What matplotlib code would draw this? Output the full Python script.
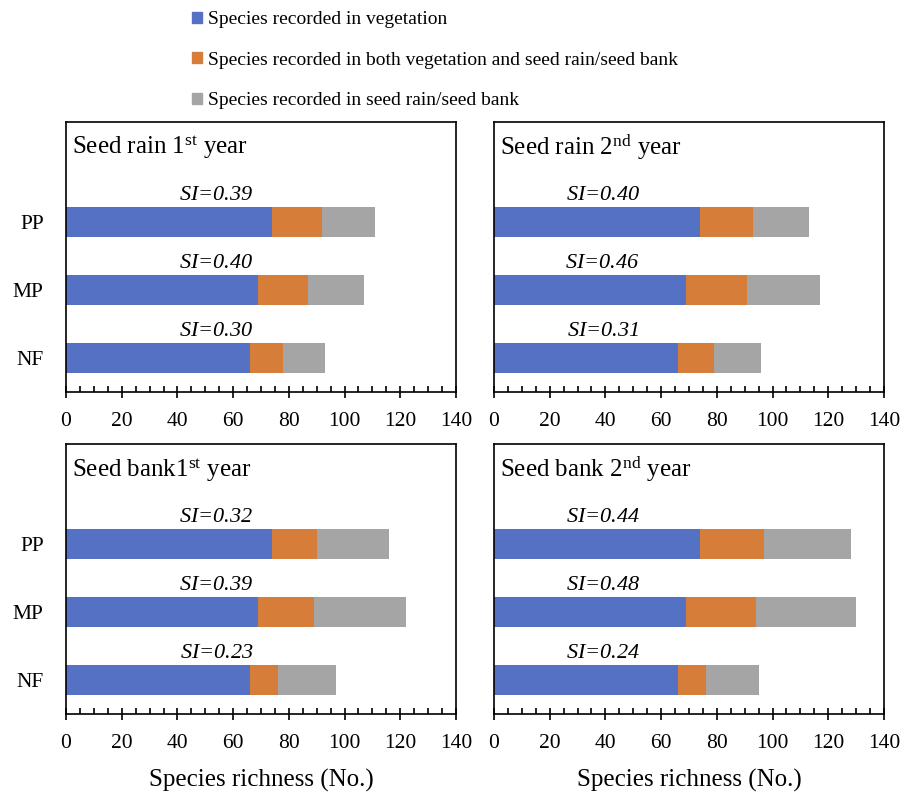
import matplotlib
matplotlib.use("Agg")
import matplotlib.pyplot as plt
from matplotlib.patches import Patch
from matplotlib.ticker import MultipleLocator

plt.rcParams['font.family'] = ['Liberation Serif', 'DejaVu Serif']
plt.rcParams['mathtext.fontset'] = 'custom'
plt.rcParams['mathtext.rm'] = 'Liberation Serif'
plt.rcParams['mathtext.it'] = 'Liberation Serif:italic'

# data, order NF, MP, PP from bottom to top
sites = ['NF', 'MP', 'PP']
titles = ['Seed rain 1$^{\\mathrm{st}}$ year', 'Seed rain 2$^{\\mathrm{nd}}$ year',
          'Seed bank1$^{\\mathrm{st}}$ year', 'Seed bank 2$^{\\mathrm{nd}}$ year']
veg = [[66, 69, 74], [66, 69, 74], [66, 69, 74], [66, 69, 74]]
both = [[12, 18, 18], [13, 22, 19], [10, 20, 16], [10, 25, 23]]
seed = [[15, 20, 19], [17, 26, 20], [21, 33, 26], [19, 36, 31]]
si = [['0.30', '0.40', '0.39'], ['0.31', '0.46', '0.40'],
      ['0.23', '0.39', '0.32'], ['0.24', '0.48', '0.44']]
si_x = [54, 39, 54, 39]

legend_labels = ['Species recorded in vegetation',
                 'Species recorded in both vegetation and seed rain/seed bank',
                 'Species recorded in seed rain/seed bank']
colors = ['#5571C3', '#D67D3A', '#A5A5A5']

fig = plt.figure(figsize=(9.12, 7.94), dpi=100)

lefts = [66 / 912, 494 / 912, 66 / 912, 494 / 912]
bottoms = [1 - 391.7 / 794, 1 - 391.7 / 794, 1 - 714 / 794, 1 - 714 / 794]
w = 390 / 912
h = 270 / 794

for i in range(4):
    ax = fig.add_axes([lefts[i], bottoms[i], w, h])
    y = range(len(sites))
    ax.barh(y, veg[i], height=0.44, color=colors[0])
    ax.barh(y, both[i], left=veg[i], height=0.44, color=colors[1])
    left2 = [a + b for a, b in zip(veg[i], both[i])]
    ax.barh(y, seed[i], left=left2, height=0.44, color=colors[2])
    for j in y:
        ax.text(si_x[i], j + 0.32, '$\\mathit{SI}$=' + si[i][j], fontsize=16,
                style='italic', ha='center', va='baseline')
    ax.set_xlim(0, 140)
    ax.set_ylim(-0.5, 3.47)
    ax.xaxis.set_major_locator(MultipleLocator(20))
    ax.xaxis.set_minor_locator(MultipleLocator(5))
    ax.tick_params(axis='x', which='major', direction='inout', length=9, width=1.2,
                   labelsize=15.5, pad=10)
    ax.tick_params(axis='x', which='minor', direction='in', length=4, width=1.2)
    ax.set_yticks(list(y))
    if i % 2 == 0:
        ax.set_yticklabels(sites, fontsize=15.5)
    else:
        ax.set_yticklabels([])
    ax.tick_params(axis='y', length=0, pad=16)
    for s in ax.spines.values():
        s.set_linewidth(1.2)
    ax.text(0.015, 0.905, titles[i], transform=ax.transAxes, fontsize=18,
            ha='left', va='center')
    if i >= 2:
        ax.set_xlabel('Species richness (No.)', fontsize=18, labelpad=11)

handles = [Patch(color=c) for c in colors]
fig.legend(handles, legend_labels, loc='upper left', bbox_to_anchor=(192 / 912, 1 - 11 / 794),
           frameon=False, fontsize=14, handlelength=0.5, handleheight=0.5,
           handletextpad=0.3, labelspacing=1.21, borderpad=0, borderaxespad=0)

fig.savefig('out.png', dpi=100)
